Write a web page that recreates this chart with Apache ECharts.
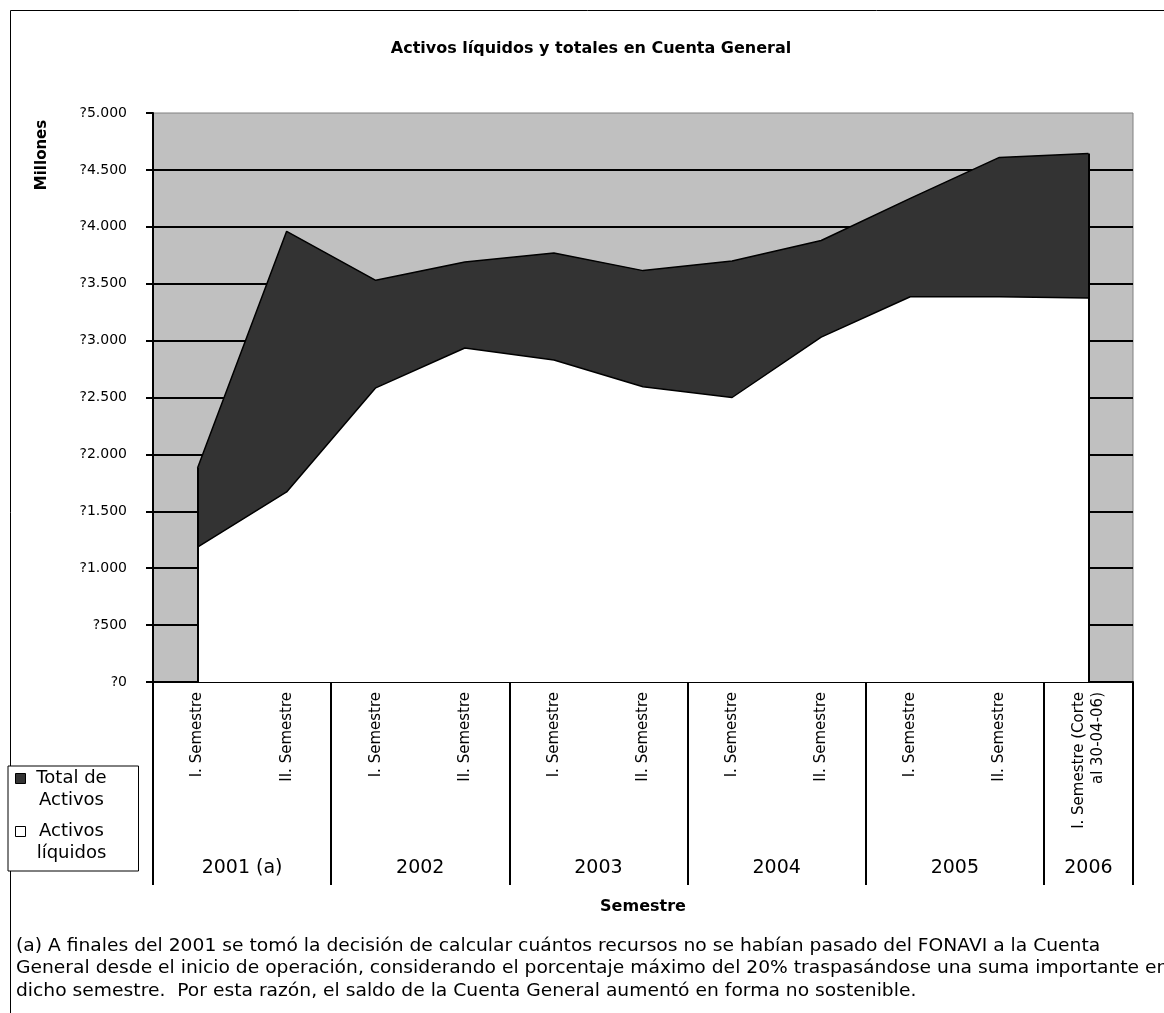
<!DOCTYPE html>
<html>
<head>
<meta charset="utf-8">
<script src="https://cdn.jsdelivr.net/npm/echarts@6/dist/echarts.min.js"></script>
<style>
  html, body { margin: 0; padding: 0; background: #fff; }
  #chart { width: 1164px; height: 1013px; }
</style>
</head>
<body>
<div id="chart"></div>
<script>
// Semester categories (last one is a partial semester)
const semesters = [
  'I. Semestre', 'II. Semestre',
  'I. Semestre', 'II. Semestre',
  'I. Semestre', 'II. Semestre',
  'I. Semestre', 'II. Semestre',
  'I. Semestre', 'II. Semestre',
  'I. Semestre (Corte\nal 30-04-06)'
];
// Year groups and how many semesters each one spans
const years = ['2001 (a)', '2002', '2003', '2004', '2005', '2006'];
const yearSpans = [2, 2, 2, 2, 2, 1];

// Millions of colones
const totalActivos    = [1880, 3960, 3530, 3690, 3770, 3615, 3700, 3880, 4250, 4610, 4645];
const activosLiquidos = [1185, 1670, 2585, 2935, 2830, 2595, 2500, 3030, 3385, 3385, 3375];

const yTicks = { min: 0, max: 5000, step: 500 };

const footnote = [
  '(a) A finales del 2001 se tomó la decisión de calcular cuántos recursos no se habían pasado del FONAVI a la Cuenta',
  'General desde el inicio de operación, considerando el porcentaje máximo del 20% traspasándose una suma importante en',
  'dicho semestre.  Por esta razón, el saldo de la Cuenta General aumentó en forma no sostenible.'
];

// Year-group boundaries and centres along a 0..N semester scale
const yearEdges = [0];
yearSpans.forEach(s => yearEdges.push(yearEdges[yearEdges.length - 1] + s));
const yearCenters = years.map((_, i) => (yearEdges[i] + yearEdges[i + 1]) / 2);

const FONT = '"DejaVu Sans", Verdana, sans-serif';
const fmtMoney = v => '?' + String(v).replace(/\B(?=(\d{3})+(?!\d))/g, '.');

// Legend swatch: 10x10 square sitting beside the first of two text lines
const LEGEND_LINE = 22;
const swatchIcon = 'path://M0,0M0,6h10v10h-10zM10,' + (LEGEND_LINE * 2);

const chart = echarts.init(document.getElementById('chart'), null, { renderer: 'canvas' });

chart.setOption({
  backgroundColor: '#ffffff',
  animation: false,
  textStyle: { fontFamily: FONT, color: '#000' },
  title: {
    text: 'Activos líquidos y totales en Cuenta General',
    left: 586,
    textAlign: 'center',
    top: 36,
    textStyle: { fontFamily: FONT, fontSize: 16, fontWeight: 'bold', color: '#000' }
  },
  legend: {
    orient: 'vertical',
    left: 8,
    top: 766,
    padding: [1, 26, 6, 7],
    backgroundColor: '#fff',
    borderColor: '#000',
    borderWidth: 1,
    itemWidth: 10,
    itemHeight: LEGEND_LINE * 2,
    itemGap: 8,
    icon: swatchIcon,
    formatter: name => {
      const i = name.lastIndexOf(' ');
      return '{t|' + name.slice(0, i) + '}\n{t|' + name.slice(i + 1) + '}';
    },
    textStyle: {
      fontFamily: FONT, fontSize: 18, color: '#000', lineHeight: LEGEND_LINE,
      rich: { t: { fontFamily: FONT, fontSize: 18, lineHeight: LEGEND_LINE, width: 82, align: 'center' } }
    },
    data: [
      { name: 'Total de Activos', itemStyle: { color: '#333333', borderColor: '#000', borderWidth: 1 } },
      { name: 'Activos líquidos', itemStyle: { color: '#ffffff', borderColor: '#000', borderWidth: 1 } }
    ]
  },
  grid: {
    left: 153, right: 31, top: 113, bottom: 331,
    show: true,
    backgroundColor: '#c0c0c0',
    borderColor: '#808080',
    borderWidth: 1
  },
  xAxis: [
    {
      type: 'category',
      data: semesters,
      boundaryGap: true,
      axisLine: { lineStyle: { color: '#000', width: 2 } },
      axisTick: { interval: 0, length: 163, lineStyle: { color: '#000', width: 1 } },
      axisLabel: {
        interval: 0, rotate: 90, margin: 10,
        fontFamily: FONT, fontSize: 15, color: '#000', lineHeight: 19
      },
      splitLine: { show: false }
    },
    {
      type: 'value',
      position: 'bottom',
      min: 0,
      max: semesters.length,
      axisLine: { show: false },
      splitLine: { show: false },
      axisTick: { show: true, customValues: yearEdges, length: 203, lineStyle: { color: '#000', width: 2 } },
      axisLabel: {
        customValues: yearCenters,
        margin: 177,
        fontFamily: FONT, fontSize: 19, color: '#000',
        formatter: v => years[yearCenters.indexOf(v)]
      },
      name: 'Semestre',
      nameLocation: 'middle',
      nameGap: 217,
      nameTextStyle: { fontFamily: FONT, fontSize: 16, fontWeight: 'bold', color: '#000' }
    }
  ],
  yAxis: {
    type: 'value',
    min: yTicks.min,
    max: yTicks.max,
    interval: yTicks.step,
    axisLine: { show: true, lineStyle: { color: '#000', width: 2 } },
    axisTick: { show: true, length: 7, lineStyle: { color: '#000', width: 2 } },
    axisLabel: { margin: 26, fontFamily: FONT, fontSize: 14, color: '#000', formatter: fmtMoney },
    splitLine: { show: true, showMaxLine: false, lineStyle: { color: '#000', width: 2 } }
  },
  graphic: [
    {
      type: 'rect', z: -10, silent: true,
      shape: { x: 10.5, y: 10.5, width: 1200, height: 1100 },
      style: { fill: 'none', stroke: '#000', lineWidth: 1 }
    },
    {
      type: 'text', x: 42, y: 155, rotation: Math.PI / 2, silent: true,
      style: {
        text: 'Millones', align: 'center', verticalAlign: 'middle',
        font: 'bold 15px ' + FONT, fill: '#000'
      }
    },
    {
      type: 'text', x: 16, y: 935, scaleX: 1.1, silent: true,
      style: {
        text: footnote.join('\n'), align: 'left', verticalAlign: 'top',
        font: '17px ' + FONT, lineHeight: 22.5, fill: '#000'
      }
    }
  ],
  series: [
    {
      name: 'Total de Activos',
      type: 'line',
      data: totalActivos,
      xAxisIndex: 0,
      z: 2,
      symbol: 'none',
      itemStyle: { color: '#333333' },
      lineStyle: { color: '#000', width: 1.5 },
      areaStyle: { color: '#333333', opacity: 1 }
    },
    {
      name: 'Activos líquidos',
      type: 'line',
      data: activosLiquidos,
      xAxisIndex: 0,
      z: 3,
      symbol: 'none',
      itemStyle: { color: '#ffffff' },
      lineStyle: { color: '#000', width: 1.5 },
      areaStyle: { color: '#ffffff', opacity: 1 },
      // closing edges of the filled region at the first and last semester
      markLine: {
        silent: true,
        symbol: 'none',
        label: { show: false },
        lineStyle: { color: '#000', width: 2, type: 'solid' },
        data: [
          [{ coord: [0, 0] }, { coord: [0, totalActivos[0]] }],
          [{ coord: [semesters.length - 1, 0] }, { coord: [semesters.length - 1, totalActivos[totalActivos.length - 1]] }]
        ]
      }
    }
  ]
});
</script>
</body>
</html>
